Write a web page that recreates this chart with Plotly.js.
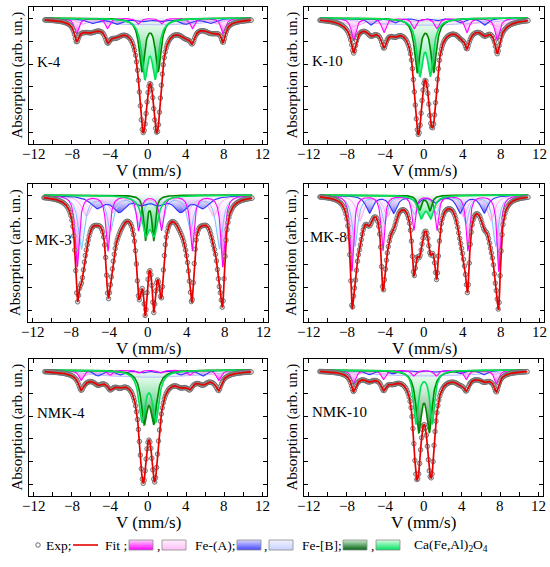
<!DOCTYPE html>
<html><head><meta charset="utf-8">
<script src="https://cdn.plot.ly/plotly-3.0.1.min.js"></script>
<style>body{margin:0;background:#fff}#chart{width:550px;height:567px}</style>
</head><body><div id="chart"></div>
<script>
// ---------------- DATA ----------------
const panelNames = ['K-4', 'K-10', 'MK-3', 'MK-8', 'NMK-4', 'NMK-10'];
const xTickVals = [-12, -8, -4, 0, 4, 8, 12];
const velocitySpan = [-10.8, 10.8];          // mm/s, measured range of the spectra
const velocityStep = 0.05;                   // mm/s
// Sextets: [centre, outer half-splitting, depth lines 1/6, depth 2/5, depth 3/4, HWHM]  (depth in tick units)
const K4_FeA1  = [0.20, 7.67, 0.70, 0.45, 0.25, 0.28];
const K4_FeA2  = [0.20, 7.00, 0.25, 0.20, 0.10, 0.80];
const K4_FeB1  = [0.30, 6.20, 0.22, 0.25, 0.12, 0.70];
const K4_FeB2  = [0.30, 5.50, 0.11, 0.11, 0.11, 2.40];
const K10_FeA1 = [0.15, 7.45, 0.98, 0.62, 0.45, 0.28];
const K10_FeA2 = [0.15, 7.50, 0.35, 0.25, 0.10, 1.00];
const K10_FeB1 = [0.40, 5.90, 0.30, 0.20, 0.10, 0.45];
const K10_FeB2 = [0.30, 5.50, 0.12, 0.12, 0.12, 2.20];
const MK3_FeA1 = [0.21, 7.55, 3.10, 2.40, 1.50, 0.25];
const MK3_FeA2 = [0.20, 6.60, 0.90, 0.70, 0.40, 0.55];
const MK3_FeB1 = [0.20, 5.50, 0.50, 0.65, 0.30, 0.80];
const MK3_FeB2 = [0.25, 7.15, 2.30, 1.50, 1.30, 0.40];
const MK8_FeA1 = [0.14, 7.62, 3.30, 2.40, 1.50, 0.22];
const MK8_FeA2 = [0.15, 6.80, 1.10, 0.90, 0.50, 0.45];
const MK8_FeB1 = [0.29, 5.95, 0.75, 0.75, 0.30, 0.45];
const MK8_FeB2 = [0.14, 7.30, 2.20, 1.20, 0.80, 0.35];
const NMK4_FeA1  = [0.20, 7.20, 0.45, 0.22, 0.12, 0.30];
const NMK4_FeA2  = [0.20, 7.00, 0.25, 0.20, 0.10, 0.80];
const NMK4_FeB1  = [0.25, 5.50, 0.25, 0.20, 0.10, 0.50];
const NMK4_FeB2  = [0.30, 5.50, 0.12, 0.12, 0.12, 2.20];
const NMK10_FeA1 = [0.15, 7.45, 0.60, 0.40, 0.25, 0.28];
const NMK10_FeA2 = [0.15, 7.20, 0.20, 0.15, 0.08, 0.80];
const NMK10_FeB1 = [0.30, 6.00, 0.20, 0.15, 0.08, 0.50];
const NMK10_FeB2 = [0.30, 5.50, 0.10, 0.10, 0.10, 2.20];
// Doublets of Ca(Fe,Al)2O4: [centre, half-splitting, depth, HWHM]
const K4_Ca1    = [0.22, 0.85, 2.25, 0.35];
const K4_Ca2    = [0.22, 0.55, 2.40, 0.40];
const K10_Ca1   = [0.15, 0.85, 2.30, 0.35];
const K10_Ca2   = [0.12, 0.55, 2.30, 0.38];
const MK3_Ca1   = [0.16, 0.43, 1.90, 0.20];
const MK3_Ca2   = [0.20, 0.45, 1.50, 0.45];
const MK8_Ca1   = [0.07, 0.55, 0.65, 0.25];
const MK8_Ca2   = [0.20, 0.50, 0.90, 0.40];
const NMK4_Ca1  = [0.10, 0.50, 2.12, 0.38];
const NMK4_Ca2  = [0.10, 0.72, 2.12, 0.40];
const NMK10_Ca1 = [0.06, 0.55, 2.50, 0.35];
const NMK10_Ca2 = [0.06, 0.85, 2.30, 0.30];
// sextet line-position ratios (57Fe nuclear g-factors)
const sextetRatios = [1, 0.5787, 0.1575];

const FeA1 = [K4_FeA1, K10_FeA1, MK3_FeA1, MK8_FeA1, NMK4_FeA1, NMK10_FeA1];
const FeA2 = [K4_FeA2, K10_FeA2, MK3_FeA2, MK8_FeA2, NMK4_FeA2, NMK10_FeA2];
const FeB1 = [K4_FeB1, K10_FeB1, MK3_FeB1, MK8_FeB1, NMK4_FeB1, NMK10_FeB1];
const FeB2 = [K4_FeB2, K10_FeB2, MK3_FeB2, MK8_FeB2, NMK4_FeB2, NMK10_FeB2];
const Ca1  = [K4_Ca1, K10_Ca1, MK3_Ca1, MK8_Ca1, NMK4_Ca1, NMK10_Ca1];
const Ca2  = [K4_Ca2, K10_Ca2, MK3_Ca2, MK8_Ca2, NMK4_Ca2, NMK10_Ca2];

// ---------------- STYLES / LAYOUT ----------------
const FONT = 'Liberation Serif, Times New Roman, serif';
const W = 550, H = 567;
const boxes = [[29,267,7,144],[304,544,7,144],[28,268,184,322],[304,544,184,322],[29,267,359,496],[304,543,359,496]];
const labelPos = [[35,62],[310,61],[33,240],[308,237],[35,413],[310,412]];
const px = x => x / W, py = y => 1 - y / H;

const styles = {
  FeB2K: {line:'rgb(190,190,255)', deep:'rgba(175,185,255,0.45)', light:'rgba(240,242,255,0.05)', w:1},
  FeB2M: {line:'rgb(120,195,255)', deep:'rgba(150,200,255,0.45)', light:'rgba(235,245,255,0.05)', w:1},
  FeA2:  {line:'rgb(250,170,240)', deep:'rgba(255,160,235,0.5)', light:'rgba(255,235,250,0.05)', w:1},
  FeB1:  {line:'rgb(50,50,255)',  deep:'rgba(40,40,235,0.8)',  light:'rgba(225,225,255,0.1)', w:1.1},
  FeA1:  {line:'rgb(255,0,255)',  deep:'rgba(255,0,255,0.85)', light:'rgba(255,230,255,0.1)', w:1.1},
  Ca1:   {line:'rgb(0,135,0)',    deep:'rgba(0,95,20,0.92)',   light:'rgba(210,255,215,0.15)', w:1.6},
  Ca2:   {line:'rgb(0,225,90)',   deep:'rgba(0,225,95,0.85)',  light:'rgba(225,255,235,0.15)', w:1.6}
};

// ---------------- MODEL ----------------
const grid = [];
for (let k = 0; ; k++) { const v = velocitySpan[0] + k * velocityStep; if (v > velocitySpan[1] + 1e-9) break; grid.push(+v.toFixed(3)); }
const lor = (v, c, d, g) => d * g * g / (g * g + (v - c) * (v - c));
function sextetDepth(p, v) {
  let s = 0;
  for (let j = 0; j < 3; j++) {
    const off = p[1] * sextetRatios[j];
    s += lor(v, p[0] - off, p[2 + j], p[5]) + lor(v, p[0] + off, p[2 + j], p[5]);
  }
  return s;
}
const doubletDepth = (p, v) => lor(v, p[0] - p[1], p[2], p[3]) + lor(v, p[0] + p[1], p[2], p[3]);

const traces = [];
const layout = {
  width: W, height: H, margin: {l:0, r:0, t:0, b:0},
  paper_bgcolor: '#fff', plot_bgcolor: 'rgba(0,0,0,0)', showlegend: false,
  annotations: [], shapes: []
};

for (let i = 0; i < 6; i++) {
  const s = i === 0 ? '' : String(i + 1);
  const xa = 'x' + s, ya = 'y' + s;
  const [x0, x1, y0, y1] = boxes[i];
  const comps = [
    {p: FeB2[i], f: sextetDepth, st: i === 2 || i === 3 ? styles.FeB2M : styles.FeB2K},
    {p: FeA2[i], f: sextetDepth, st: styles.FeA2},
    {p: FeB1[i], f: sextetDepth, st: styles.FeB1},
    {p: FeA1[i], f: sextetDepth, st: styles.FeA1},
    {p: Ca1[i], f: doubletDepth, st: styles.Ca1},
    {p: Ca2[i], f: doubletDepth, st: styles.Ca2}
  ];
  const total = grid.map(() => 0);
  const curves = comps.map(c => grid.map((v, k) => { const d = c.f(c.p, v); total[k] += d; return -d; }));
  comps.forEach((c, j) => {
    const ymin = Math.min(...curves[j]);
    traces.push({type:'scatter', mode:'lines', xaxis:xa, yaxis:ya, hoverinfo:'skip',
      x: grid.concat([velocitySpan[1], velocitySpan[0]]), y: curves[j].concat([0, 0]),
      fill:'toself', line:{width:0, color:'rgba(0,0,0,0)'},
      fillgradient:{type:'vertical', start:0, stop:ymin, colorscale:[[0, c.st.light],[1, c.st.deep]]}});
  });
  comps.forEach((c, j) => {
    traces.push({type:'scatter', mode:'lines', xaxis:xa, yaxis:ya, hoverinfo:'skip',
      x: grid, y: curves[j], line:{color:c.st.line, width:c.st.w}});
  });
  const fit = total.map(t => -t);
  traces.push({type:'scatter', mode:'markers', xaxis:xa, yaxis:ya, hoverinfo:'skip',
    x: grid.filter((v, k) => k % 2 === 0), y: fit.filter((v, k) => k % 2 === 0),
    marker:{symbol:'circle', size:4.5, color:'rgb(215,215,215)', line:{color:'rgb(95,95,95)', width:0.8}}});
  traces.push({type:'scatter', mode:'lines', xaxis:xa, yaxis:ya, hoverinfo:'skip',
    x: grid, y: fit, line:{color:'rgb(230,0,0)', width:1.7}});

  layout['xaxis' + s] = {
    domain:[px(x0), px(x1)], anchor: ya, range:[-12.45, 12.45],
    tickmode:'array', tickvals: xTickVals, showticklabels:false,
    ticks:'inside', ticklen:4, tickwidth:1, tickcolor:'#000',
    minor:{tickmode:'linear', tick0:-12, dtick:2, ticks:'inside', ticklen:4, tickwidth:1, tickcolor:'#000'},
    showline:true, linecolor:'#000', linewidth:1.2, mirror:'ticks',
    showgrid:false, zeroline:false, fixedrange:true
  };
  layout['yaxis' + s] = {
    domain:[py(y1), py(y0)], anchor: xa, range:[-5.48, 0.48],
    tickmode:'linear', tick0:0, dtick:1, ticks:'inside', ticklen:4, tickwidth:1, tickcolor:'#000',
    showticklabels:false, showline:true, linecolor:'#000', linewidth:1.2, mirror:'ticks',
    showgrid:false, zeroline:false, fixedrange:true
  };
  xTickVals.forEach(v => layout.annotations.push({xref:xa, yref:'paper', x:v, y:py(y1 + 9.5), xanchor:'center', yanchor:'middle',
    text: v < 0 ? '\u2212' + Math.abs(v) : String(v), showarrow:false, font:{family:FONT, size:15, color:'#000'}}));
  layout.annotations.push({xref:'paper', yref:'paper', x:px((x0 + x1) / 2), y:py(y1 + 26), xanchor:'center', yanchor:'middle',
    text:'V (mm/s)', showarrow:false, font:{family:FONT, size:17, color:'#000'}});
  layout.annotations.push({xref:'paper', yref:'paper', x:px(x0 - 12), y:py((y0 + y1) / 2), xanchor:'center', yanchor:'middle',
    text:'Absorption (arb. un.)', textangle:-90, showarrow:false, font:{family:FONT, size:15, color:'#000'}});
  layout.annotations.push({xref:'paper', yref:'paper', x:px(labelPos[i][0]), y:py(labelPos[i][1]), xanchor:'left', yanchor:'middle',
    text:panelNames[i], showarrow:false, font:{family:FONT, size:15, color:'#000'}});
}

// ---------------- LEGEND ROW (drawn on a pixel-scaled overlay axis) ----------------
layout.xaxis7 = {domain:[0,1], range:[0, W], visible:false, fixedrange:true, anchor:'y7'};
layout.yaxis7 = {domain:[0,1], range:[H, 0], visible:false, fixedrange:true, anchor:'x7'};
const LY = 545;
traces.push({type:'scatter', mode:'markers', xaxis:'x7', yaxis:'y7', hoverinfo:'skip', x:[38], y:[LY],
  marker:{symbol:'circle-open', size:4.5, color:'rgb(95,95,95)', line:{width:0.9}}});
traces.push({type:'scatter', mode:'lines', xaxis:'x7', yaxis:'y7', hoverinfo:'skip', x:[73, 98], y:[LY, LY],
  line:{color:'rgb(230,0,0)', width:1.6}});
const legendBoxes = [
  [129, 'rgb(255,210,255)', 'rgb(255,0,255)'],
  [162, 'rgb(255,240,255)', 'rgb(255,190,245)'],
  [237, 'rgb(215,215,255)', 'rgb(70,70,255)'],
  [269, 'rgb(240,242,255)', 'rgb(200,210,255)'],
  [343, 'rgb(200,235,200)', 'rgb(0,100,20)'],
  [376, 'rgb(215,255,225)', 'rgb(0,225,95)']
];
legendBoxes.forEach(b => {
  traces.push({type:'scatter', mode:'lines', xaxis:'x7', yaxis:'y7', hoverinfo:'skip',
    x:[b[0], b[0] + 24, b[0] + 24, b[0], b[0]], y:[540, 540, 550, 550, 540],
    fill:'toself', line:{color:'rgb(140,140,140)', width:0.8},
    fillgradient:{type:'vertical', start:540, stop:550, colorscale:[[0, b[1]], [1, b[2]]]}});
});
const legendTexts = [[44, 'Exp;'], [103, 'Fit ;'], [155, ','], [193, 'Fe-(A);'], [262, ','], [300, 'Fe-[B];'], [369, ','], [412, 'Ca(Fe,Al)<sub>2</sub>O<sub>4</sub>']];
legendTexts.forEach(t => layout.annotations.push({xref:'paper', yref:'paper', x:px(t[0]), y:py(LY), xanchor:'left', yanchor:'middle',
  text:t[1], showarrow:false, font:{family:FONT, size:13.5, color:'#000'}}));

Plotly.newPlot('chart', traces, layout, {staticPlot:true, displayModeBar:false});
</script></body></html>
